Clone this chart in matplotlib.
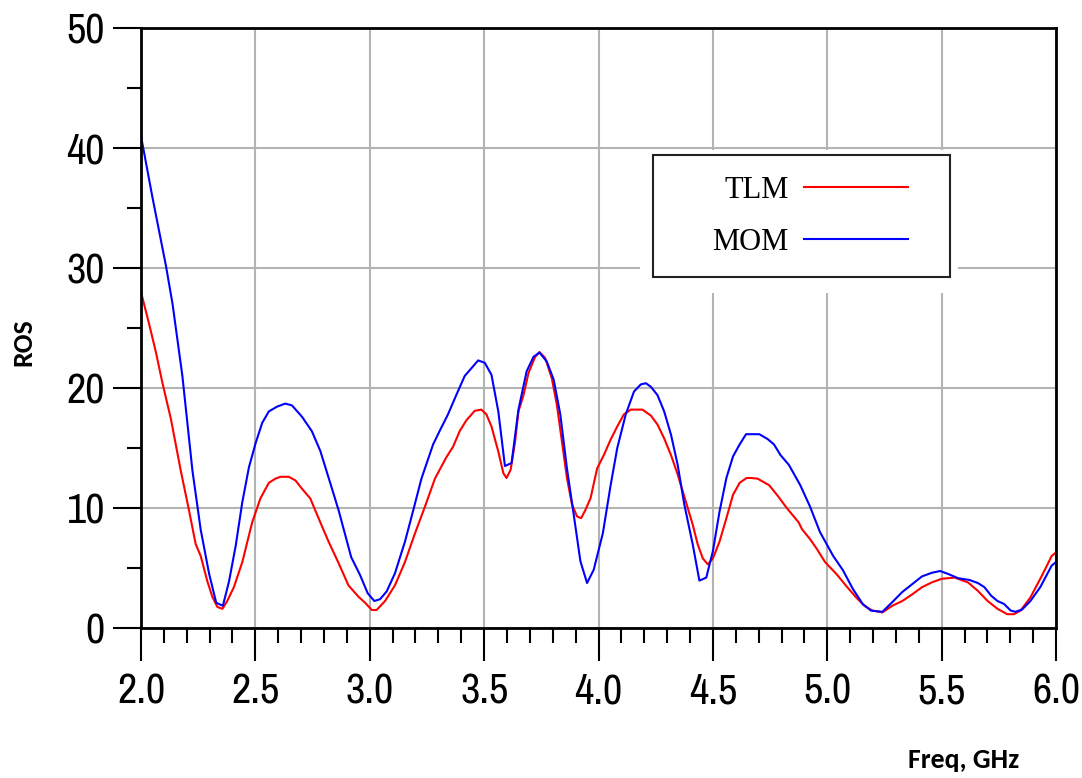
import numpy as np
import matplotlib
matplotlib.use("Agg")
import matplotlib.pyplot as plt
from matplotlib.patches import Rectangle
from matplotlib.ticker import MultipleLocator, FormatStrFormatter

# MOM curve (blue)
freq_mom = [2.000, 2.051, 2.109, 2.138, 2.181, 2.225, 2.261, 2.298, 2.329, 2.358,
            2.385, 2.414, 2.443, 2.472, 2.501, 2.530, 2.559, 2.595, 2.631, 2.660,
            2.704, 2.747, 2.784, 2.827, 2.864, 2.919, 2.958, 2.991, 3.020, 3.045,
            3.074, 3.110, 3.154, 3.190, 3.226, 3.277, 3.305, 3.342, 3.378, 3.415,
            3.474, 3.503, 3.532, 3.562, 3.591, 3.620, 3.650, 3.686, 3.716, 3.742,
            3.774, 3.804, 3.833, 3.862, 3.892, 3.921, 3.950, 3.979, 4.019, 4.053,
            4.082, 4.119, 4.155, 4.185, 4.207, 4.229, 4.258, 4.287, 4.317, 4.346,
            4.375, 4.412, 4.441, 4.471, 4.500, 4.529, 4.559, 4.588, 4.617, 4.645,
            4.703, 4.739, 4.767, 4.796, 4.832, 4.882, 4.925, 4.968, 5.026, 5.069,
            5.112, 5.155, 5.191, 5.241, 5.284, 5.328, 5.371, 5.414, 5.457, 5.493,
            5.529, 5.572, 5.622, 5.658, 5.687, 5.716, 5.744, 5.773, 5.802, 5.823,
            5.852, 5.888, 5.931, 5.981, 6.000]
ros_mom = [41.0, 35.8, 30.2, 27.0, 21.0, 13.1, 8.2, 4.5, 2.1, 1.85,
           3.9, 6.85, 10.5, 13.4, 15.4, 17.1, 18.05, 18.45, 18.7, 18.55,
           17.6, 16.4, 14.75, 12.1, 9.8, 5.9, 4.4, 2.9, 2.25, 2.4,
           3.05, 4.55, 7.2, 9.8, 12.45, 15.3, 16.4, 17.8, 19.4, 21.0,
           22.3, 22.1, 21.1, 18.05, 13.5, 13.75, 18.2, 21.4, 22.6, 22.95,
           22.2, 20.7, 17.8, 13.3, 9.4, 5.55, 3.75, 4.85, 7.9, 11.9,
           15.0, 17.8, 19.7, 20.3, 20.4, 20.1, 19.4, 18.05, 16.1, 13.6,
           10.3, 6.95, 3.95, 4.2, 6.4, 9.7, 12.5, 14.3, 15.3, 16.15,
           16.15, 15.75, 15.3, 14.4, 13.6, 11.9, 10.1, 8.0, 6.0, 4.8,
           3.25, 2.0, 1.45, 1.35, 2.15, 3.0, 3.65, 4.3, 4.6, 4.75,
           4.5, 4.15, 4.0, 3.75, 3.4, 2.7, 2.25, 2.0, 1.45, 1.35,
           1.55, 2.25, 3.4, 5.2, 5.5]

# TLM curve (red)
freq_tlm = [2.000, 2.036, 2.065, 2.094, 2.131, 2.174, 2.210, 2.239, 2.261, 2.290,
            2.312, 2.334, 2.356, 2.377, 2.406, 2.443, 2.486, 2.522, 2.559, 2.588,
            2.610, 2.646, 2.675, 2.704, 2.740, 2.784, 2.820, 2.864, 2.907, 2.951,
            2.980, 3.009, 3.030, 3.067, 3.110, 3.154, 3.197, 3.241, 3.285, 3.334,
            3.364, 3.393, 3.422, 3.459, 3.488, 3.510, 3.532, 3.562, 3.584, 3.598,
            3.616, 3.635, 3.650, 3.672, 3.694, 3.723, 3.742, 3.767, 3.796, 3.818,
            3.840, 3.862, 3.884, 3.906, 3.924, 3.943, 3.965, 3.994, 4.023, 4.053,
            4.082, 4.111, 4.141, 4.192, 4.229, 4.258, 4.287, 4.317, 4.346, 4.368,
            4.390, 4.412, 4.434, 4.456, 4.478, 4.500, 4.529, 4.559, 4.588, 4.617,
            4.647, 4.667, 4.695, 4.746, 4.782, 4.825, 4.875, 4.889, 4.925, 4.954,
            4.990, 5.040, 5.083, 5.126, 5.162, 5.198, 5.241, 5.284, 5.328, 5.371,
            5.414, 5.457, 5.500, 5.557, 5.615, 5.658, 5.701, 5.744, 5.787, 5.816,
            5.845, 5.888, 5.938, 5.981, 6.000]
ros_tlm = [28.0, 25.3, 23.0, 20.4, 17.4, 13.1, 9.8, 7.0, 6.0, 3.9,
           2.6, 1.75, 1.6, 2.25, 3.4, 5.5, 8.8, 10.8, 12.1, 12.45,
           12.6, 12.6, 12.3, 11.6, 10.8, 8.8, 7.2, 5.4, 3.55, 2.6,
           2.1, 1.5, 1.5, 2.25, 3.55, 5.5, 7.85, 10.1, 12.45, 14.2,
           15.1, 16.4, 17.3, 18.1, 18.2, 17.8, 16.8, 14.7, 12.9, 12.5,
           13.2, 15.5, 18.05, 19.4, 21.25, 22.6, 23.0, 22.5, 20.8, 18.6,
           15.55, 12.5, 10.3, 9.3, 9.15, 9.85, 10.8, 13.3, 14.4, 15.7,
           16.8, 17.8, 18.2, 18.2, 17.7, 16.95, 15.8, 14.4, 12.8, 11.4,
           10.0, 8.6, 6.95, 5.8, 5.3, 5.8, 7.2, 9.15, 11.1, 12.1,
           12.5, 12.5, 12.45, 11.9, 11.05, 9.95, 8.8, 8.25, 7.4, 6.6,
           5.5, 4.5, 3.5, 2.55, 1.85, 1.45, 1.3, 1.85, 2.25, 2.8,
           3.4, 3.8, 4.1, 4.2, 3.8, 3.1, 2.25, 1.6, 1.15, 1.15,
           1.45, 2.55, 4.35, 6.0, 6.3]

tick_font = ['Pragati Narrow', 'Archivo Narrow', 'Roboto Condensed', 'PT Sans Narrow', 'DejaVu Sans']
label_font = ['Carlito', 'Open Sans', 'DejaVu Sans']

fig = plt.figure(figsize=(10.82, 7.78), dpi=100)
ax = fig.add_axes([0.1303, 0.1928, 0.8457, 0.7712])

ax.plot(freq_tlm, ros_tlm, color='#ff0000', lw=1.5, label='TLM', zorder=3)
ax.plot(freq_mom, ros_mom, color='#0000ff', lw=1.5, label='MOM', zorder=3)

ax.set_xlim(2.0, 6.0)
ax.set_ylim(0, 50)
ax.xaxis.set_major_locator(MultipleLocator(0.5))
ax.xaxis.set_minor_locator(MultipleLocator(0.1))
ax.yaxis.set_major_locator(MultipleLocator(10))
ax.yaxis.set_minor_locator(MultipleLocator(5))
ax.xaxis.set_major_formatter(FormatStrFormatter('%.1f'))

ax.set_axisbelow(True)
ax.grid(which='major', color='#b4b4b4', lw=1.5)
for s in ax.spines.values():
    s.set_linewidth(2)
    s.set_zorder(4)

ax.tick_params(axis='x', which='major', direction='out', length=24, width=1.5, pad=8)
ax.tick_params(axis='x', which='minor', direction='out', length=11, width=1.5)
ax.tick_params(axis='y', which='major', direction='out', length=20, width=1.5, pad=6)
ax.tick_params(axis='y', which='minor', direction='out', length=10, width=1.5)
for lab in ax.get_xticklabels() + ax.get_yticklabels():
    lab.set_family(tick_font)
    lab.set_fontsize(33)

# legend: white area hides the grid, black frame on top
ax.add_patch(Rectangle((0.5454, 0.5583), 0.3475, 0.2384, transform=ax.transAxes,
                       facecolor='white', edgecolor='none', zorder=1))
ax.add_patch(Rectangle((0.5596, 0.585), 0.3246, 0.203, transform=ax.transAxes,
                       facecolor='none', edgecolor='#222222', lw=1.5, zorder=4))
ax.legend(loc='center', bbox_to_anchor=(0.731, 0.686), frameon=False, markerfirst=False,
          prop={'family': 'Liberation Serif', 'size': 22},
          handlelength=3.4, handletextpad=0.5, labelspacing=0.75)

fig.text(0.022, 0.56, 'ROS', rotation=90, ha='center', va='center',
         family=label_font, weight='bold', fontsize=20)
fig.text(0.891, 0.023, 'Freq, GHz', ha='center', va='center',
         family=label_font, weight='bold', fontsize=20)

fig.savefig('out.png', dpi=100)
